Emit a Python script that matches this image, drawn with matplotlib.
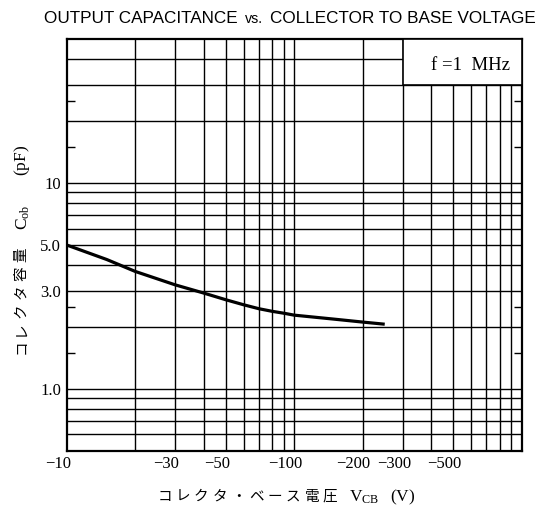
import numpy as np
import matplotlib
matplotlib.use("Agg")
import matplotlib.pyplot as plt
from matplotlib.patches import Rectangle
from matplotlib.transforms import ScaledTranslation

# curve: |V_CB| (V) vs C_ob (pF)
vcb = [10, 15, 20, 30, 40, 50, 60, 70, 80, 90, 100, 150, 200, 250]
cob = [5.0, 4.25, 3.72, 3.20, 2.92, 2.71, 2.56, 2.45, 2.38, 2.33, 2.28, 2.18, 2.11, 2.06]

x_ticks = [10, 30, 50, 100, 200, 300, 500]
x_labels = ["\u221210", "\u221230", "\u221250", "\u2212100", "\u2212200", "\u2212300", "\u2212500"]
y_ticks = [1.0, 3.0, 5.0, 10]
y_labels = ["1.0", "3.0", "5.0", "10"]
y_short = [1.5, 2.5, 15, 25]

grid_x = [20, 30, 40, 50, 60, 70, 80, 90, 100, 200, 300, 400, 500, 600, 700, 800, 900]
grid_y = [0.6, 0.7, 0.8, 0.9, 1, 2, 3, 4, 5, 6, 7, 8, 9, 10, 20, 30, 40]

plt.rcParams.update({
    "font.family": ["Noto Sans CJK JP", "DejaVu Sans"],
    "mathtext.fontset": "custom",
    "mathtext.rm": "Liberation Serif",
    "mathtext.it": "Liberation Serif:italic",
})
SERIF = "Liberation Serif"
SANS = "Liberation Sans"
W, H = 547, 512


def fx(px):
    return px / W


def fy(py):
    return 1 - py / H


fig = plt.figure(figsize=(5.47, 5.12), dpi=100)
ax = fig.add_axes([fx(66.7), fy(450.7), 455 / W, 411.4 / H])
ax.set_xscale("log")
ax.set_yscale("log")
ax.set_xlim(10, 1000)
ax.set_ylim(0.5, 50)

for gx in grid_x:
    ax.axvline(gx, color="black", lw=1.0, zorder=1)
for gy in grid_y:
    ax.axhline(gy, color="black", lw=1.0, zorder=1)

# condition box in the upper-right corner
ax.add_patch(Rectangle((300, 30), 700, 20, facecolor="white", edgecolor="black",
                       lw=1.2, zorder=3))
ax.text(0.887, 0.9375, "f =1  MHz", transform=ax.transAxes, ha="center", va="center",
        fontsize=13.5, family=SERIF, zorder=4)

ax.plot(vcb, cob, color="black", lw=2.3, solid_capstyle="butt", zorder=5)

ax.set_xticks(x_ticks)
ax.set_xticklabels(x_labels, family=SERIF, fontsize=12)
ax.xaxis.set_minor_locator(matplotlib.ticker.NullLocator())
ax.tick_params(axis="x", which="major", length=0, pad=4)
shift = ScaledTranslation(-9 / 100, 0, fig.dpi_scale_trans)
for lab in ax.get_xticklabels():
    lab.set_transform(lab.get_transform() + shift)

ax.set_yticks(y_ticks)
ax.set_yticklabels(y_labels, family=SERIF, fontsize=12)
ax.set_yticks(y_short, minor=True)
ax.yaxis.set_minor_formatter(matplotlib.ticker.NullFormatter())
ax.tick_params(axis="y", which="major", length=0, pad=4)
ax.tick_params(axis="y", which="minor", length=6, width=1.0, direction="in",
               left=True, right=True)

for sp in ax.spines.values():
    sp.set_linewidth(1.6)

# axis labels: the Japanese is letter-spaced, so set one glyph at a time
pitch = 18.4
ylab_jp = "コレクタ容量"
for i, ch in enumerate(ylab_jp):
    fig.text(fx(21.7), fy(347 - i * pitch), ch, rotation=90, ha="center", va="center",
             fontsize=10.5)
fig.text(fx(22.5), fy(217), "$\\mathrm{C_{ob}}$", rotation=90, ha="center", va="center",
         fontsize=12.5)
fig.text(fx(22.5), fy(160), "$\\mathrm{(pF)}$", rotation=90, ha="center", va="center",
         fontsize=12.5)

xlab_jp = "コレクタ・ベース電圧"
for i, ch in enumerate(xlab_jp):
    fig.text(fx(164.5 + i * pitch), fy(497), ch, ha="center", va="center", fontsize=10.5)
fig.text(fx(349), fy(497), "$\\mathrm{V_{CB}}$", ha="left", va="center", fontsize=12.5)
fig.text(fx(390), fy(497), "$\\mathrm{(V)}$", ha="left", va="center", fontsize=12.5)

# title in three pieces, "vs." set smaller; each piece starts where the last ended
renderer = fig.canvas.get_renderer()
base = fy(23.3)
x_px = 44.0
for piece, size in [("OUTPUT CAPACITANCE", 12.3), ("vs.", 10.3), ("COLLECTOR TO BASE VOLTAGE", 12.3)]:
    t = fig.text(fx(x_px), base, piece, fontsize=size, family=SANS, va="baseline")
    x_px = t.get_window_extent(renderer).x1 + 7

fig.savefig("out.png", dpi=100)
